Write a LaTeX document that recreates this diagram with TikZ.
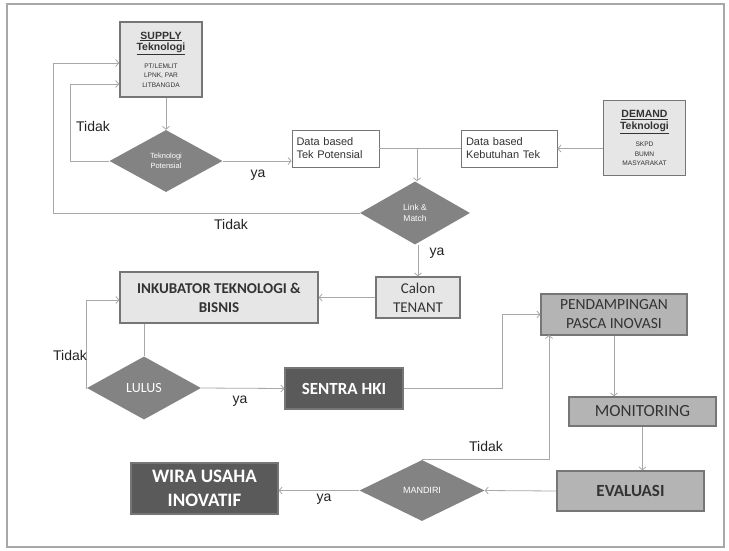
\documentclass[tikz,border=0pt]{standalone}
\usepackage{fontspec}
\setmainfont{Liberation Sans}
\newfontfamily\calfont{Carlito}
\usetikzlibrary{shapes.geometric,arrows.meta}

\definecolor{lineg}{HTML}{A8A8A8}
\definecolor{edgeg}{HTML}{767676}
\definecolor{lightfill}{HTML}{E6E6E6}
\definecolor{midfill}{HTML}{B4B4B4}
\definecolor{darkfill}{HTML}{5A5A5A}
\definecolor{decfill}{HTML}{838383}
\definecolor{txtg}{HTML}{333333}
\definecolor{lblg}{HTML}{222222}

% one heading line and one small line inside the source boxes
\newcommand\srchead[1]{{\fontsize{10.5}{12}\selectfont\bfseries\underline{#1}}}
\newcommand\srcsmall[1]{{\fontsize{6.6}{9.5}\selectfont #1}}

\tikzset{
  flow/.style={draw=lineg, line width=0.8pt, -{Straight Barb[length=3pt,width=7pt]}},
  plain/.style={draw=lineg, line width=0.8pt},
  srcbox/.style={draw=edgeg, fill=lightfill, line width=1.6pt, inner sep=0pt, align=center, text=txtg,
                 font=\fontsize{6.6}{9.5}\selectfont},
  databox/.style={draw=edgeg, fill=white, line width=0.9pt, inner sep=0pt, align=left, text=txtg,
                  font=\fontsize{11}{13}\selectfont},
  lightbox/.style={draw=edgeg, fill=lightfill, line width=1.2pt, inner sep=0pt, align=center, text=txtg},
  midbox/.style={draw=edgeg, fill=midfill, line width=1.2pt, inner sep=0pt, align=center, text=txtg},
  darkbox/.style={draw=edgeg, fill=darkfill, line width=1.2pt, inner sep=0pt, align=center, text=white},
  decision/.style={diamond, fill=decfill, draw=none, inner sep=0pt, align=center, text=white},
  lbl/.style={text=lblg, font=\fontsize{14}{16}\selectfont, inner sep=0pt}
}

\begin{document}
\begin{tikzpicture}[x=1pt, y=-1pt]
  \useasboundingbox (0,0) rectangle (729,550);
  \draw[draw=lineg, line width=1.3pt] (7,4) rectangle (724,547);

  % --- top part: supply and demand of technology
  \node[srcbox, minimum width=82pt, minimum height=75pt] (sup) at (161,59.5)
    {\srchead{SUPPLY}\\[1pt]
     \srchead{Teknologi}\\[8pt]
     \srcsmall{PT/LEMLIT}\\
     \srcsmall{LPNK, PAR}\\
     \srcsmall{LITBANGDA}};
  \node[srcbox, minimum width=82pt, minimum height=75pt] (dem) at (644.5,138)
    {\srchead{DEMAND}\\[1pt]
     \srchead{Teknologi}\\[8pt]
     \srcsmall{SKPD}\\
     \srcsmall{BUMN}\\
     \srcsmall{MASYARAKAT}};

  \node[decision, minimum width=113pt, minimum height=62pt, font=\fontsize{7.5}{10}\selectfont] (tp) at (166,161)
    {Teknologi\\Potensial};
  \node[databox, minimum width=87pt, minimum height=37pt, text width=78pt] (dtp) at (335.5,148.5)
    {Data based\\Tek Potensial};
  \node[databox, minimum width=96pt, minimum height=37pt, text width=86pt] (dkt) at (509,148.5)
    {Data based\\Kebutuhan Tek};
  \node[decision, minimum width=110pt, minimum height=63pt, font=\fontsize{8.5}{11}\selectfont] (lm) at (415,213)
    {Link \&\\Match};

  % --- middle part: incubation
  \node[lightbox, minimum width=84pt, minimum height=41pt, font=\calfont\fontsize{15}{19}\selectfont] (ct) at (418,297.5)
    {Calon\\TENANT};
  \node[lightbox, minimum width=198pt, minimum height=51pt, font=\calfont\bfseries\fontsize{15}{19}\selectfont] (ink) at (219,297.5)
    {INKUBATOR TEKNOLOGI \&\\BISNIS};
  \node[decision, minimum width=114pt, minimum height=63pt, font=\calfont\fontsize{14}{16}\selectfont] (lulus) at (144,388)
    {LULUS};
  \node[darkbox, minimum width=118pt, minimum height=41pt, font=\calfont\bfseries\fontsize{17}{20}\selectfont] (sentra) at (344,388.5)
    {SENTRA HKI};

  % --- right column: mentoring, monitoring, evaluation
  \node[midbox, minimum width=146pt, minimum height=41pt, font=\calfont\fontsize{15.5}{19}\selectfont] (pend) at (614,314.5)
    {PENDAMPINGAN\\PASCA INOVASI};
  \node[midbox, minimum width=147pt, minimum height=29pt, font=\calfont\fontsize{17}{20}\selectfont] (mon) at (642.5,411.5)
    {MONITORING};
  \node[midbox, minimum width=147pt, minimum height=40pt, font=\calfont\bfseries\fontsize{17}{20}\selectfont] (eval) at (630.5,491)
    {EVALUASI};
  \node[decision, minimum width=125pt, minimum height=61pt, font=\fontsize{9}{11}\selectfont] (mand) at (422,490.5)
    {MANDIRI};
  \node[darkbox, minimum width=147pt, minimum height=51pt, font=\calfont\bfseries\fontsize{19}{24}\selectfont] (wira) at (204.5,488.5)
    {WIRA USAHA\\INOVATIF};

  % --- connectors
  \coordinate (t1) at (70,84);
  \coordinate (t2) at (53,63);
  \coordinate (j) at (417,148.5);
  \coordinate (t3) at (86,300);
  \coordinate (h1) at (502,388.5);
  \coordinate (t4) at (549,335);

  \draw[flow] (sup.south -| tp.north) -- (tp.north);
  \draw[flow] (tp.east) -- (dtp.west |- tp.east);
  \draw[flow] (tp.west) -| (t1) -- (sup.west |- t1);
  \draw[plain] (dtp.east) -- (dkt.west);
  \draw[flow] (dem.west |- dkt.east) -- (dkt.east);
  \draw[flow] (j) -- (j |- lm.north);
  \draw[flow] (lm.west) -| (t2) -- (sup.west |- t2);
  \draw[flow] (lm.south -| ct.north) -- (ct.north);
  \draw[flow] (ct.west) -- (ink.east |- ct.west);
  \draw[plain] (lulus.north |- ink.south) -- (lulus.north);
  \draw[flow] (lulus.west) -| (t3) -- (ink.west |- t3);
  \draw[flow] (lulus.east) -- (sentra.west);
  \draw[flow] (sentra.east) -- (h1) |- (pend.west);
  \draw[flow] (pend.south) -- (pend.south |- mon.north);
  \draw[flow] (mon.south) -- (mon.south |- eval.north);
  \draw[flow] (eval.west) -- (mand.east);
  \draw[flow] (mand.west) -- (wira.east |- mand.west);
  \draw[flow] (mand.north) -| (t4);

  % --- branch labels
  \node[lbl] (l1) at (93,126) {Tidak};
  \node[lbl] (l2) at (258,175) {ya};
  \node[lbl] (l3) at (231,224) {Tidak};
  \node[lbl] (l4) at (437,253) {ya};
  \node[lbl] (l5) at (70,355) {Tidak};
  \node[lbl] (l6) at (240,401) {ya};
  \node[lbl] (l7) at (486,446) {Tidak};
  \node[lbl] (l8) at (324,499) {ya};
\end{tikzpicture}
\end{document}
